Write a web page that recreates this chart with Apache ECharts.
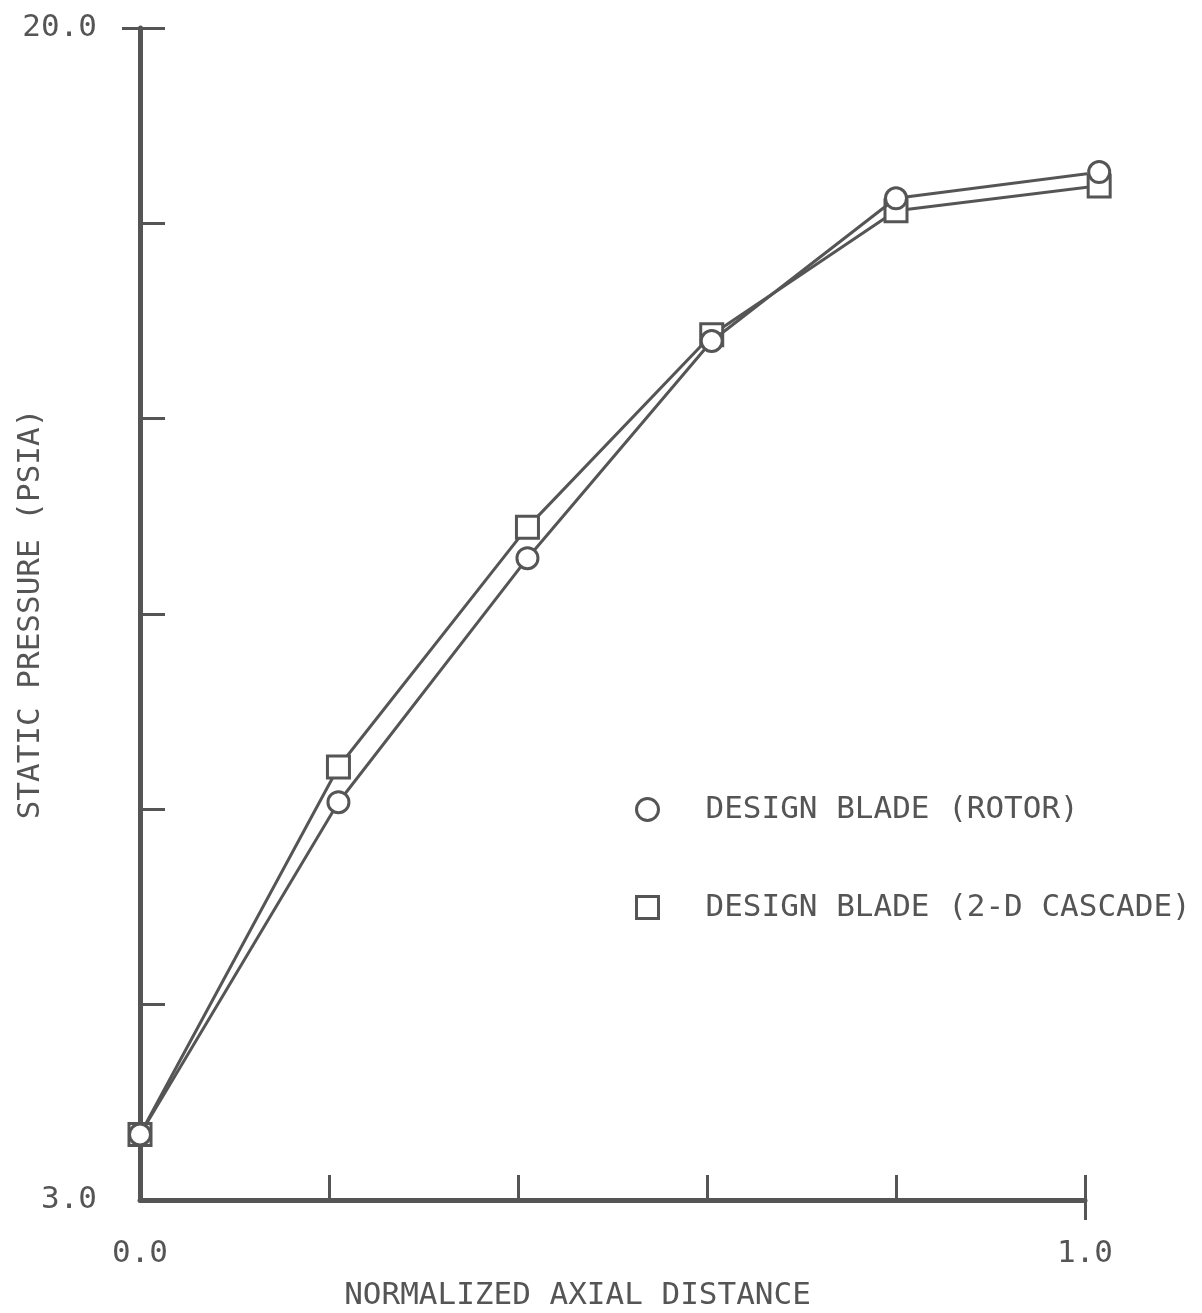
<!DOCTYPE html>
<html>
<head>
<meta charset="utf-8">
<title>Static pressure vs normalized axial distance</title>
<script src="https://cdn.jsdelivr.net/npm/echarts@6/dist/echarts.min.js"></script>
<style>
  html, body { margin: 0; padding: 0; background: #ffffff; }
  #chart { width: 1202px; height: 1313px; }
</style>
</head>
<body>
<div id="chart"></div>
<script>
// Normalized axial stations and static pressure (psia) along the blade
const rotorX = [0, 0.21, 0.41, 0.605, 0.80, 1.015];
const rotorP = [3.95, 8.77, 12.31, 15.46, 17.53, 17.91];
const cascadeX = [0, 0.21, 0.41, 0.605, 0.80, 1.015];
const cascadeP = [3.95, 9.28, 12.76, 15.55, 17.35, 17.71];

const seriesNames = ['DESIGN BLADE (ROTOR)', 'DESIGN BLADE (2-D CASCADE)'];

// Axis ranges, tick positions and labelled values
const xRange = [0, 1];
const xTickStep = 0.2;
const xLabelValues = [0, 1];
const yRange = [3, 20];
const yTickValues = [5.833, 8.667, 11.5, 14.333, 17.167];
const yLabelValues = [3, 20];

const ink = '#555555';
const font = '"DejaVu Sans Mono", "Liberation Mono", monospace';

const pairs = (xs, ys) => xs.map((x, i) => [x, ys[i]]);

const chart = echarts.init(document.getElementById('chart'), null, { renderer: 'canvas' });

chart.setOption({
  backgroundColor: '#ffffff',
  animation: false,
  grid: { left: 140, top: 28, right: 117, bottom: 113, containLabel: false, outerBoundsMode: 'none' },
  xAxis: [
    {
      type: 'value',
      min: xRange[0], max: xRange[1], interval: xTickStep,
      position: 'bottom',
      name: 'NORMALIZED AXIAL DISTANCE',
      nameLocation: 'middle',
      nameGap: 80,
      nameMoveOverlap: false,
      nameTextStyle: { fontFamily: font, fontSize: 31, color: ink, padding: [0, 70, 0, 0] },
      axisLine: { onZero: false, lineStyle: { color: ink, width: 5 } },
      axisTick: { inside: true, length: 25, lineStyle: { color: ink, width: 3 } },
      axisLabel: {
        customValues: xLabelValues,
        margin: 38,
        fontFamily: font, fontSize: 31, color: ink,
        formatter: v => v.toFixed(1)
      },
      splitLine: { show: false }
    },
    {
      // end cap of the distance axis, pointing outward
      type: 'value',
      min: xRange[0], max: xRange[1],
      position: 'bottom',
      axisLine: { show: false },
      axisTick: { inside: false, length: 20, customValues: [1], lineStyle: { color: ink, width: 3 } },
      axisLabel: { show: false },
      splitLine: { show: false }
    }
  ],
  yAxis: [
    {
      type: 'value',
      min: yRange[0], max: yRange[1],
      position: 'left',
      name: 'STATIC PRESSURE (PSIA)',
      nameLocation: 'middle',
      nameGap: 94,
      nameRotate: 90,
      nameMoveOverlap: false,
      nameTextStyle: { fontFamily: font, fontSize: 31, color: ink },
      axisLine: { onZero: false, lineStyle: { color: ink, width: 5 } },
      axisTick: { inside: true, length: 25, customValues: yTickValues.concat([20]), lineStyle: { color: ink, width: 3 } },
      axisLabel: {
        customValues: yLabelValues,
        margin: 43,
        fontFamily: font, fontSize: 31, color: ink,
        formatter: v => v.toFixed(1)
      },
      splitLine: { show: false }
    },
    {
      // top cap of the pressure axis, pointing outward
      type: 'value',
      min: yRange[0], max: yRange[1],
      position: 'left',
      axisLine: { show: false },
      axisTick: { inside: false, length: 18, customValues: [20], lineStyle: { color: ink, width: 3 } },
      axisLabel: { show: false },
      splitLine: { show: false }
    }
  ],
  legend: {
    orient: 'vertical',
    left: 630,
    top: 789,
    itemWidth: 22,
    itemHeight: 22,
    itemGap: 67,
    data: [
      { name: seriesNames[0], icon: 'circle' },
      { name: seriesNames[1], icon: 'rect' }
    ],
    itemStyle: { color: '#ffffff', borderColor: ink, borderWidth: 3 },
    textStyle: { fontFamily: font, fontSize: 31, color: ink, padding: [0, 0, 0, 42] }
  },
  series: [
    {
      name: seriesNames[0],
      type: 'line',
      data: pairs(rotorX, rotorP),
      clip: false,
      symbol: 'circle',
      symbolSize: 21,
      lineStyle: { color: ink, width: 3 },
      itemStyle: { color: '#ffffff', borderColor: ink, borderWidth: 3 },
      z: 3
    },
    {
      name: seriesNames[1],
      type: 'line',
      data: pairs(cascadeX, cascadeP),
      clip: false,
      symbol: 'rect',
      symbolSize: 22,
      lineStyle: { color: ink, width: 3 },
      itemStyle: { color: '#ffffff', borderColor: ink, borderWidth: 3 },
      z: 2
    }
  ]
});
</script>
</body>
</html>
